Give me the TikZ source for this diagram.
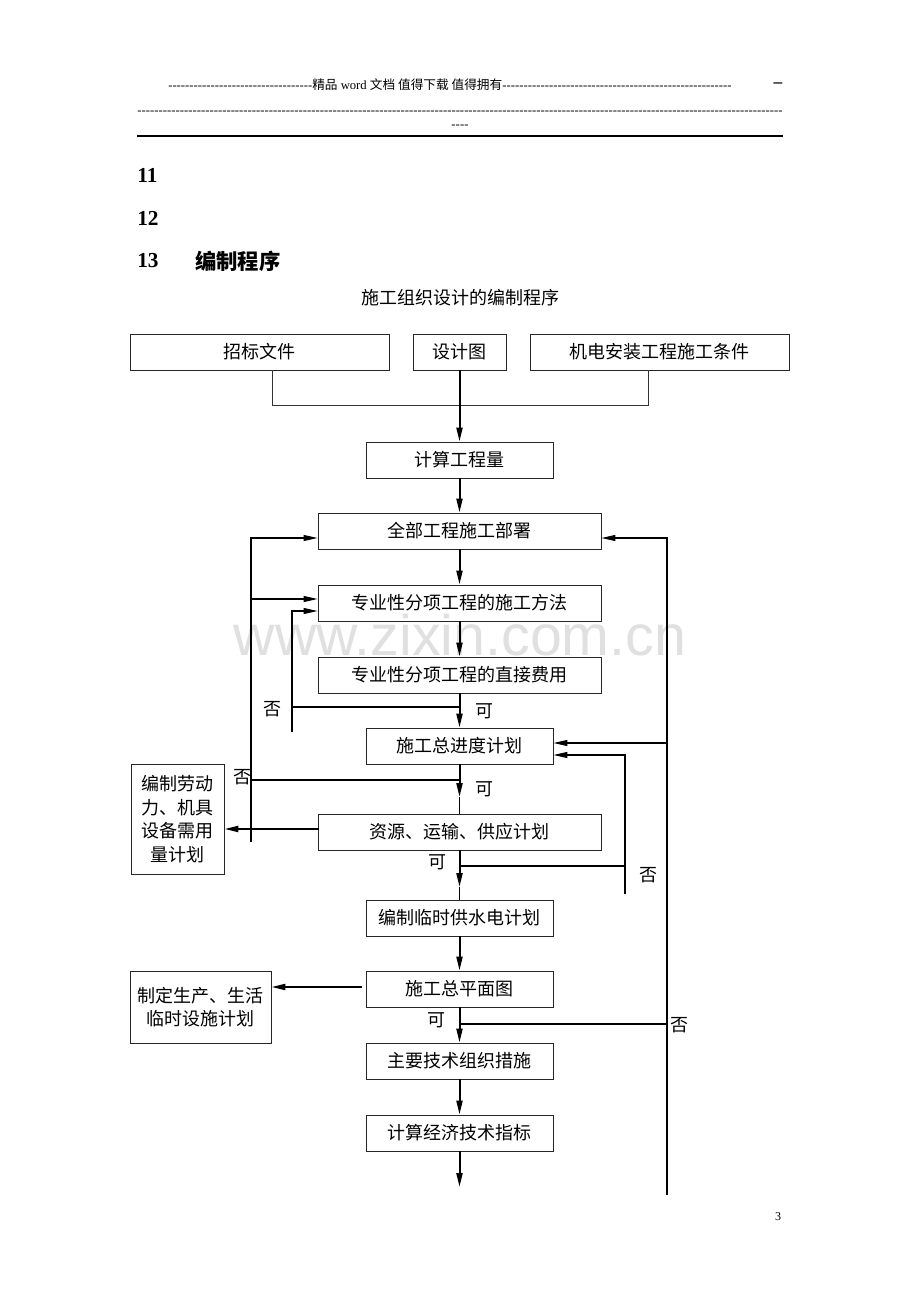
\documentclass[tikz,border=0pt]{standalone}
\usepackage{fontspec}
\setmainfont{Liberation Serif}
\newfontfamily\cjk{Noto Sans CJK SC}
\newfontfamily\wmfont{Liberation Sans}
\usetikzlibrary{arrows.meta}

\newcommand{\dashfill}[1]{\hbox to #1{\xleaders\hbox{-}\hfill}}

\begin{document}
\begin{tikzpicture}[x=0.75pt, y=-0.75pt,
        box/.style={draw=black!85, line width=0.7pt, inner sep=0pt, minimum height=27pt,
            align=center, font=\cjk\fontsize{13.5}{17.6}\selectfont},
        spine/.style={line width=1.5pt},
        loop/.style={line width=0.8pt},
        lbl/.style={inner sep=0pt, font=\cjk\fontsize{13.5}{16}\selectfont},
        >={Triangle[length=10.5pt, width=4.5pt]}]
        \useasboundingbox[fill=white] (0,0) rectangle (920,1302);

        \node[anchor=base, text=black!12, font=\wmfont\fontsize{43}{43}\selectfont] (wm) at (460,655) {www.zixin.com.cn};

        % page header
        \node[anchor=west, inner sep=0pt, font=\fontsize{9.5}{11}\selectfont] (hd1) at (168,85)
            {\dashfill{108pt}{\cjk 精品} word {\cjk 文档\ 值得下载\ 值得拥有}\dashfill{172pt}};
        \node[inner sep=0pt, font=\fontsize{13}{13}\selectfont\bfseries] (hd2) at (778,85) {–};
        \node[inner sep=0pt, font=\fontsize{9.5}{11}\selectfont] (hd3) at (460,113) {\dashfill{484pt}};
        \node[inner sep=0pt, font=\fontsize{9.5}{11}\selectfont] (hd4) at (460,127) {\dashfill{13pt}};
        \draw[line width=1.2pt] (137,136) -- (783,136);

        \node[anchor=west, inner sep=0pt, font=\fontsize{16}{16}\selectfont\bfseries] (n11) at (137,175) {11};
        \node[anchor=west, inner sep=0pt, font=\fontsize{16}{16}\selectfont\bfseries] (n12) at (137,218) {12};
        \node[anchor=west, inner sep=0pt, font=\fontsize{16}{16}\selectfont\bfseries] (n13) at (137,261) {13};
        \node[anchor=west, inner sep=0pt, font=\cjk\fontsize{16}{16}\selectfont\bfseries] (bzcx) at (195,261) {编制程序};
        \node[lbl] (title) at (460,298) {施工组织设计的编制程序};

        % boxes
        \node[box, minimum width=194.25pt] (zbwj) at (259.5,352) {招标文件};
        \node[box, minimum width=69.75pt] (sjt) at (459.5,352) {设计图};
        \node[box, minimum width=194.25pt] (jdtj) at (659.5,352) {机电安装工程施工条件};
        \node[box, minimum width=140.25pt] (jsgcl) at (459.5,460) {计算工程量};
        \node[box, minimum width=212.25pt] (qbbs) at (459.5,531) {全部工程施工部署};
        \node[box, minimum width=212.25pt] (sgff) at (459.5,603) {专业性分项工程的施工方法};
        \node[box, minimum width=212.25pt] (zjfy) at (459.5,675) {专业性分项工程的直接费用};
        \node[box, minimum width=140.25pt] (zjd) at (459.5,746) {施工总进度计划};
        \node[box, minimum width=212.25pt] (zygy) at (459.5,832) {资源、运输、供应计划};
        \node[box, minimum width=140.25pt] (lsgs) at (459.5,918) {编制临时供水电计划};
        \node[box, minimum width=140.25pt] (zpm) at (459.5,989) {施工总平面图};
        \node[box, minimum width=140.25pt] (jscs) at (459.5,1061) {主要技术组织措施};
        \node[box, minimum width=140.25pt] (jjzb) at (459.5,1133) {计算经济技术指标};
        \node[box, minimum width=69.75pt, minimum height=82.5pt] (ldl) at (177.5,819) {编制劳动\\力、机具\\设备需用\\量计划};
        \node[box, minimum width=105.75pt, minimum height=54pt] (lssh) at (200.5,1007) {制定生产、生活\\临时设施计划};

        % main line
        \coordinate (mL) at (272,405);
        \coordinate (mR) at (648,405);
        \draw[line width=0.5pt, black!80] (zbwj.south -| mL) -- (mL) -- (mR) -- (jdtj.south -| mR);
        \coordinate (t1) at (459.5,797);
        \coordinate (t2) at (459.5,887);
        \coordinate (end) at (459.5,1187);
        \draw[spine, ->] (sjt) -- (jsgcl);
        \draw[spine, ->] (jsgcl) -- (qbbs);
        \draw[spine, ->] (qbbs) -- (sgff);
        \draw[spine, ->] (sgff) -- (zjfy);
        \draw[spine, ->] (zjfy) -- (zjd);
        \draw[spine, ->] (zjd) -- (t1);
        \draw[loop] (t1) -- (zygy);
        \draw[spine, ->] (zygy) -- (t2);
        \draw[loop] (t2) -- (lsgs);
        \draw[spine, ->] (lsgs) -- (zpm);
        \draw[spine, ->] (zpm) -- (jscs);
        \draw[spine, ->] (jscs) -- (jjzb);
        \draw[spine, ->] (jjzb) -- (end);

        % left loops
        \coordinate (fL) at (292,732);
        \coordinate (fT) at (292,611);
        \coordinate (fB) at (459.5,707);
        \draw[loop, ->] (fL) -- (fT) -- (sgff.west |- fT);
        \draw[loop] (fB) -- (fL |- fB);
        \coordinate (oL) at (251,842);
        \coordinate (oT) at (251,538);
        \coordinate (oM) at (251,599);
        \coordinate (oN) at (251,780);
        \draw[loop, ->] (oL) -- (oT) -- (qbbs.west |- oT);
        \draw[loop, ->] (oM) -- (sgff.west |- oM);
        \draw[loop] (zjd.south |- oN) -- (oN);
        \coordinate (rl) at (319,829);
        \draw[spine, ->] (rl) -- (ldl.east |- rl);

        % right loops
        \coordinate (rB) at (667,1195);
        \coordinate (rT) at (667,538);
        \coordinate (rM) at (667,743);
        \coordinate (rN) at (667,1024);
        \draw[loop, ->] (rB) -- (rT) -- (qbbs.east |- rT);
        \draw[loop, ->] (rM) -- (zjd.east |- rM);
        \draw[loop] (zpm.south |- rN) -- (rN);
        \coordinate (iB) at (625,894);
        \coordinate (iT) at (625,755);
        \coordinate (iN) at (625,866);
        \draw[loop, ->] (iB) -- (iT) -- (zjd.east |- iT);
        \draw[loop] (zygy.south |- iN) -- (iN);
        \coordinate (sp) at (362,987);
        \draw[spine, ->] (sp) -- (lssh.east |- sp);

        \node[lbl] (no1) at (272,709) {否};
        \node[lbl] (ok1) at (484,711) {可};
        \node[lbl] (no2) at (242,777) {否};
        \node[lbl] (ok2) at (484,789) {可};
        \node[lbl] (ok3) at (437,862) {可};
        \node[lbl] (no3) at (648,875) {否};
        \node[lbl] (ok4) at (436,1020) {可};
        \node[lbl] (no4) at (679,1025) {否};
        \node[inner sep=0pt, font=\fontsize{9}{9}\selectfont] (pg) at (778,1217) {3};
\end{tikzpicture}
\end{document}
